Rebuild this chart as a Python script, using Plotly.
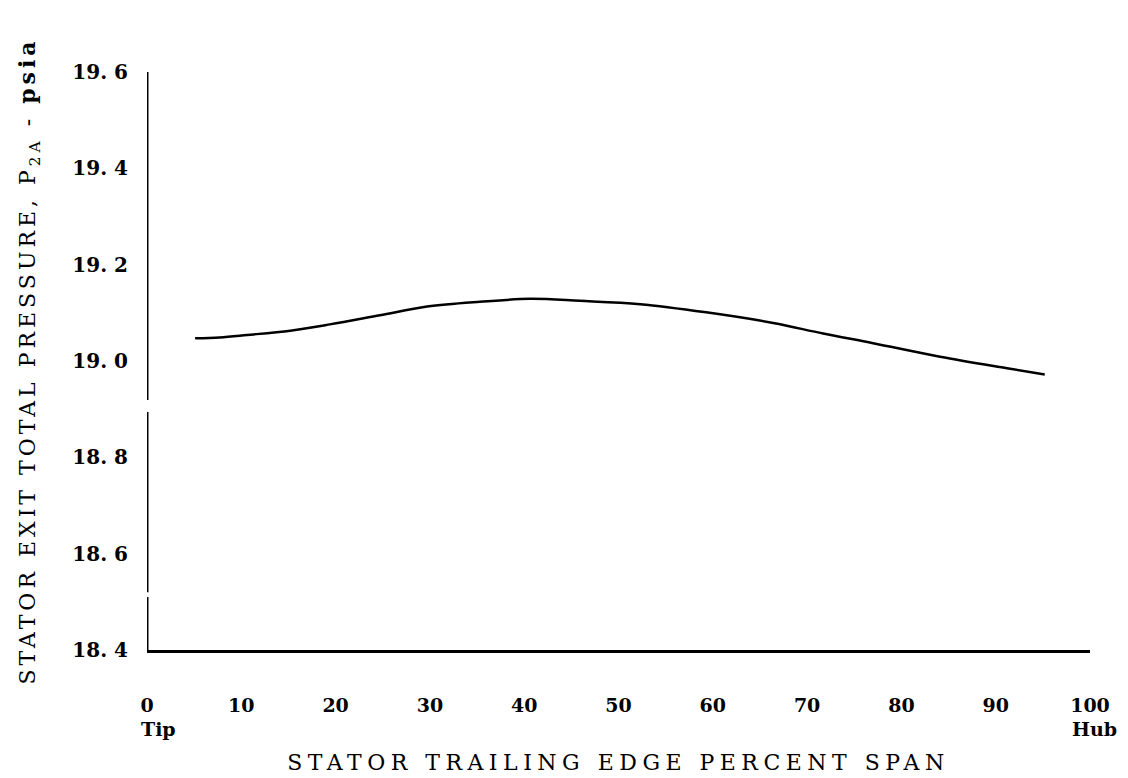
import plotly.graph_objects as go

# Data
span_pct = [5.1, 7.7, 10.6, 15.2, 19.4, 24.7, 29.7, 35.3, 40.6, 45.9, 52.3, 59.3,
            66.4, 71.7, 77.0, 84.1, 91.2, 95.2]
pressure = [19.047, 19.049, 19.054, 19.063, 19.076, 19.095, 19.113, 19.123, 19.129,
            19.125, 19.118, 19.101, 19.079, 19.057, 19.037, 19.009, 18.985, 18.972]

x_ticks = [0, 10, 20, 30, 40, 50, 60, 70, 80, 90, 100]
x_tick_labels = ["0", "10", "20", "30", "40", "50", "60", "70", "80", "90", "100"]
y_ticks = [18.4, 18.6, 18.8, 19.0, 19.2, 19.4, 19.6]
y_tick_labels = ["18. 4", "18. 6", "18. 8", "19. 0", "19. 2", "19. 4", "19. 6"]

# y-axis segments (the axis line is drawn broken in the original)
y_axis_segments = [(18.4, 18.51), (18.52, 18.894), (18.919, 19.6)]

FONT = "DejaVu Serif"

fig = go.Figure()
fig.add_trace(go.Scatter(
    x=span_pct, y=pressure, mode="lines",
    line=dict(color="black", width=2.5, shape="spline", smoothing=1.0),
    showlegend=False, hoverinfo="skip"))

shapes = []
for y0, y1 in y_axis_segments:
    shapes.append(dict(type="line", xref="x", yref="y", x0=0, x1=0, y0=y0, y1=y1,
                       line=dict(color="black", width=3)))

fig.update_layout(
    width=1128, height=778,
    margin=dict(l=147, r=38, t=72, b=128),
    paper_bgcolor="white", plot_bgcolor="white",
    shapes=shapes,
    xaxis=dict(
        range=[0, 100], tickvals=x_ticks, ticktext=x_tick_labels,
        showgrid=False, zeroline=False, showline=True, linecolor="black", linewidth=3,
        ticks="", ticklabelstandoff=36, automargin=False,
        tickfont=dict(family=FONT, size=19, color="black", weight="bold"),
        title=dict(text="STATOR TRAILING EDGE PERCENT SPAN", standoff=40,
                   font=dict(family=FONT, size=22, color="black")),
    ),
    yaxis=dict(
        range=[18.4, 19.6], tickvals=y_ticks, ticktext=y_tick_labels,
        showgrid=False, zeroline=False, showline=False,
        ticks="", ticklabelstandoff=18, automargin=False,
        tickfont=dict(family=FONT, size=20, color="black", weight="bold"),
        title=dict(text="STATOR EXIT TOTAL PRESSURE, P<sub>2A</sub> - <b>psia</b>", standoff=30,
                   font=dict(family=FONT, size=22, color="black")),
    ),
    annotations=[
        dict(text="<b>Tip</b>", x=0, y=0, xref="x", yref="paper", xanchor="left", yanchor="top",
             xshift=-8, yshift=-66, showarrow=False, font=dict(family=FONT, size=19, color="black")),
        dict(text="<b>Hub</b>", x=100, y=0, xref="x", yref="paper", xanchor="center", yanchor="top",
             xshift=4, yshift=-66, showarrow=False, font=dict(family=FONT, size=19, color="black")),
    ],
)

post = """
function spaceTitles(){
  var xt = document.querySelectorAll('.g-xtitle text');
  xt.forEach(function(e){ e.style.letterSpacing='5.5px'; });
  var yt = document.querySelectorAll('.g-ytitle text');
  yt.forEach(function(e){ e.style.letterSpacing='4px'; });
}
spaceTitles();
var gd = document.getElementById('{plot_id}');
if (gd && gd.on) { gd.on('plotly_afterplot', spaceTitles); }
"""

fig.write_html("out.html", post_script=post)
